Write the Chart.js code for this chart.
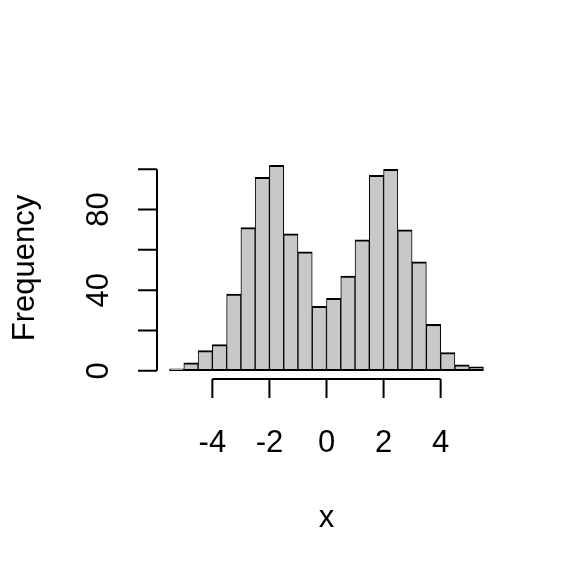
<!DOCTYPE html>
<html>
<head>
<meta charset="utf-8">
<script src="https://cdn.jsdelivr.net/npm/chart.js@4/dist/chart.umd.min.js"></script>
<style>
  body { margin: 0; background: #fff; }
  canvas { display: block; }
</style>
</head>
<body>
<canvas id="chartdiv" width="576" height="576"></canvas>
<script>
// histogram breaks and counts
var binEdges = [-5.5, -5, -4.5, -4, -3.5, -3, -2.5, -2, -1.5, -1, -0.5, 0,
                0.5, 1, 1.5, 2, 2.5, 3, 3.5, 4, 4.5, 5, 5.5];
var counts = [1, 4, 10, 13, 38, 71, 96, 102, 68, 59, 32,
              36, 47, 65, 97, 100, 70, 54, 23, 9, 3, 2];

// axis ticks
var xTicks = [-4, -2, 0, 2, 4];
var yTicks = [0, 20, 40, 60, 80, 100];
var yTickLabels = [0, 40, 80];

var xTitle = 'x';
var yTitle = 'Frequency';

var FONT = '31px "Liberation Sans", Arial, sans-serif';

var points = counts.map(function (c, i) {
  return { x: (binEdges[i] + binEdges[i + 1]) / 2, y: c };
});

// R style axes, detached from the bars
var rAxes = {
  id: 'rAxes',
  afterDraw: function (chart) {
    var ctx = chart.ctx;
    var xs = chart.scales.x, ys = chart.scales.y;
    var area = chart.chartArea;
    ctx.save();
    ctx.strokeStyle = '#000';
    ctx.fillStyle = '#000';
    ctx.lineWidth = 2;
    ctx.font = FONT;

    // x axis
    var yLine = area.bottom;
    ctx.beginPath();
    ctx.moveTo(xs.getPixelForValue(xTicks[0]), yLine);
    ctx.lineTo(xs.getPixelForValue(xTicks[xTicks.length - 1]), yLine);
    xTicks.forEach(function (t) {
      var px = xs.getPixelForValue(t);
      ctx.moveTo(px, yLine);
      ctx.lineTo(px, yLine + 19);
    });
    ctx.stroke();
    ctx.textAlign = 'center';
    ctx.textBaseline = 'alphabetic';
    xTicks.forEach(function (t) {
      ctx.fillText(String(t), xs.getPixelForValue(t), 452);
    });
    ctx.fillText(xTitle, (area.left + area.right) / 2, 527);

    // y axis
    var xLine = area.left;
    ctx.beginPath();
    ctx.moveTo(xLine, ys.getPixelForValue(yTicks[0]));
    ctx.lineTo(xLine, ys.getPixelForValue(yTicks[yTicks.length - 1]));
    yTicks.forEach(function (t) {
      var py = ys.getPixelForValue(t);
      ctx.moveTo(xLine, py);
      ctx.lineTo(xLine - 19, py);
    });
    ctx.stroke();
    yTickLabels.forEach(function (t) {
      ctx.save();
      ctx.translate(108, ys.getPixelForValue(t));
      ctx.rotate(-Math.PI / 2);
      ctx.fillText(String(t), 0, 0);
      ctx.restore();
    });
    ctx.save();
    ctx.translate(34, (area.top + area.bottom) / 2);
    ctx.rotate(-Math.PI / 2);
    ctx.fillText(yTitle, 0, 0);
    ctx.restore();

    ctx.restore();
  }
};

var ctx = document.querySelector('#chartdiv');

new Chart(ctx, {
  type: 'bar',
  data: {
    datasets: [{
      data: points,
      backgroundColor: '#c8c8c8',
      borderColor: '#000',
      borderWidth: { top: 2, bottom: 2, left: 1, right: 1 },
      borderSkipped: false,
      barPercentage: 1,
      categoryPercentage: 1
    }]
  },
  options: {
    responsive: false,
    animation: false,
    layout: { padding: { left: 157, right: 80, top: 157, bottom: 197 } },
    plugins: { legend: { display: false }, tooltip: { enabled: false } },
    scales: {
      x: { type: 'linear', display: false, offset: false, min: -5.94, max: 5.94 },
      y: { display: false, min: -4.08, max: 106.08 }
    }
  },
  plugins: [rAxes]
});
</script>
</body>
</html>
